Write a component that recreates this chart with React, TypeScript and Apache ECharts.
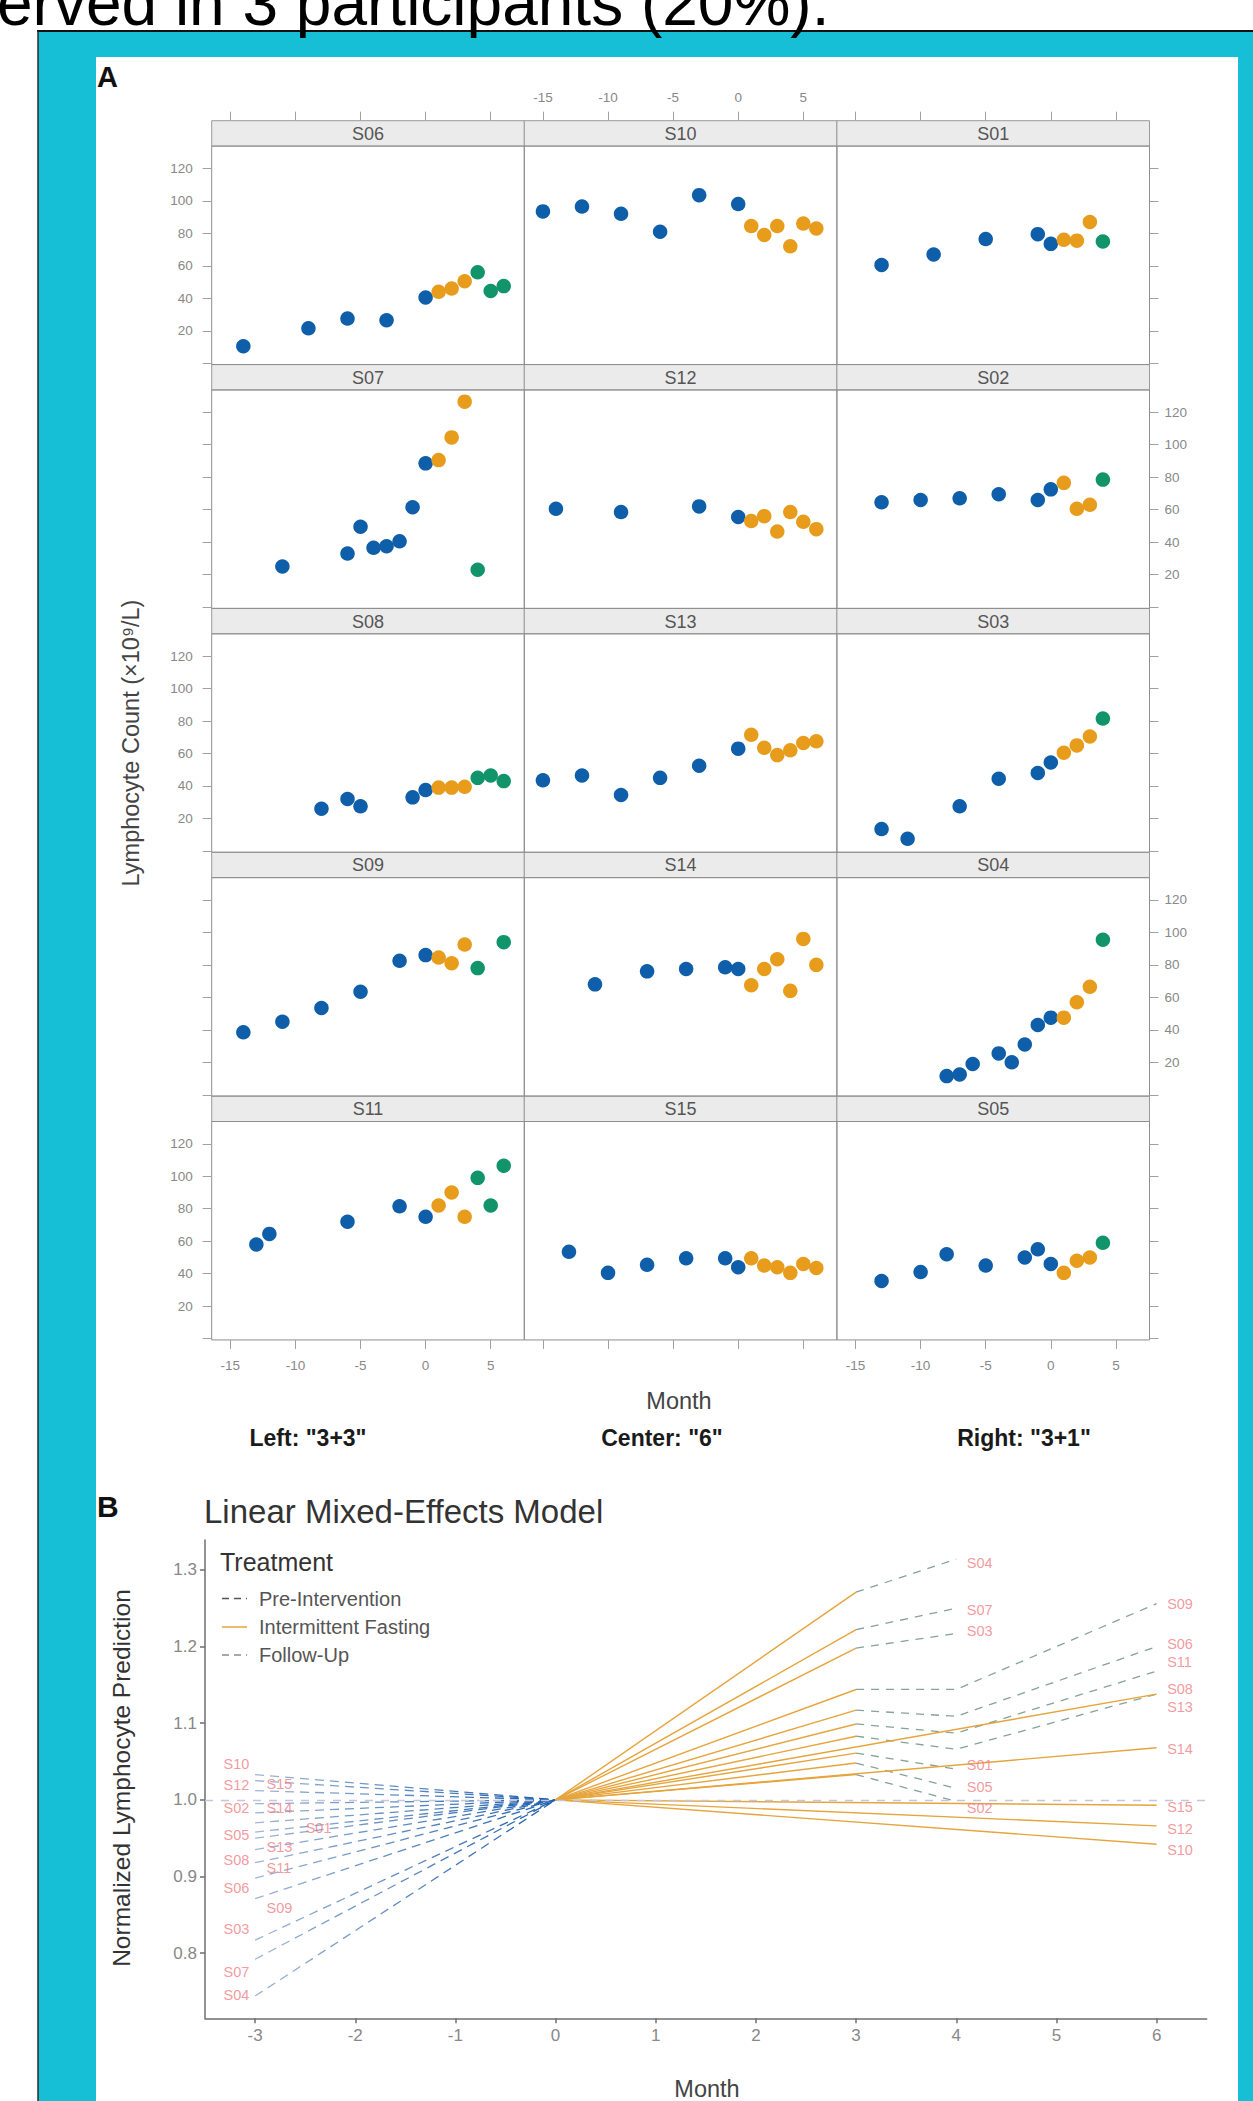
import React, { useEffect, useRef } from 'react';
import * as echarts from 'echarts';

const FONT = '"Liberation Sans", Arial, Helvetica, sans-serif';

// ---------- Panel A: lymphocyte counts by month ----------
const S01_month = [-13, -9, -5, -1, 0, 1, 2, 3, 4];
const S01_count = [60.5, 67, 76.5, 79.5, 73.5, 76, 75.5, 87, 75];
const S02_month = [-13, -10, -7, -4, -1, 0, 1, 2, 3, 4];
const S02_count = [64.5, 66, 67, 69.5, 66, 72.5, 76.5, 60.5, 63, 78.5];
const S03_month = [-13, -11, -7, -4, -1, 0, 1, 2, 3, 4];
const S03_count = [13.5, 7.5, 27.5, 44.5, 48, 54.5, 60.5, 65, 70.5, 81.5];
const S04_month = [-8, -7, -6, -4, -3, -2, -1, 0, 1, 2, 3, 4];
const S04_count = [11.5, 12.5, 19, 25.5, 20, 31, 43, 47.5, 47.5, 57, 66.5, 95.5];
const S05_month = [-13, -10, -8, -5, -2, -1, 0, 1, 2, 3, 4];
const S05_count = [35.5, 41, 52, 45, 50, 55, 46, 40.5, 48, 50, 59];
const S06_month = [-14, -9, -6, -3, 0, 1, 2, 3, 4, 5, 6];
const S06_count = [10.5, 21.5, 27.5, 26.5, 40.5, 44, 46, 50.5, 56, 44.5, 47.5];
const S07_month = [-11, -6, -5, -4, -3, -2, -1, 0, 1, 2, 3, 4];
const S07_count = [25, 33, 49.5, 36.5, 37.5, 40.5, 61.5, 88.5, 90.5, 104.5, 126.5, 23];
const S08_month = [-8, -6, -5, -1, 0, 1, 2, 3, 4, 5, 6];
const S08_count = [26, 32, 27.5, 33, 37.5, 39, 39, 39.5, 45, 46.5, 43];
const S09_month = [-14, -11, -8, -5, -2, 0, 1, 2, 3, 4, 6];
const S09_count = [38.5, 45, 53.5, 63.5, 82.5, 86, 84.5, 81, 92.5, 78, 94];
const S10_month = [-15, -12, -9, -6, -3, 0, 1, 2, 3, 4, 5, 6];
const S10_count = [93.5, 96.5, 92, 81, 103.5, 98, 84.5, 79, 84.5, 72, 86, 83];
const S11_month = [-13, -12, -6, -2, 0, 1, 2, 3, 4, 5, 6];
const S11_count = [58, 64.5, 72, 81.5, 75, 82, 90, 75, 99, 82, 106.5];
const S12_month = [-14, -9, -3, 0, 1, 2, 3, 4, 5, 6];
const S12_count = [60.5, 58.5, 62, 55.5, 53, 56, 46.5, 58.5, 52.5, 48];
const S13_month = [-15, -12, -9, -6, -3, 0, 1, 2, 3, 4, 5, 6];
const S13_count = [43.5, 46.5, 34.5, 45, 52.5, 63, 71.5, 63.5, 59, 62, 66.5, 67.5];
const S14_month = [-11, -7, -4, -1, 0, 1, 2, 3, 4, 5, 6];
const S14_count = [68, 76, 77.5, 78.5, 77.5, 67.5, 77.5, 83.5, 64, 96, 80];
const S15_month = [-13, -10, -7, -4, -1, 0, 1, 2, 3, 4, 5, 6];
const S15_count = [53.5, 40.5, 45.5, 49.5, 49.5, 44, 49.5, 45, 44, 40.5, 46, 43.5];

const panelRows = [
  ['S06', 'S10', 'S01'],
  ['S07', 'S12', 'S02'],
  ['S08', 'S13', 'S03'],
  ['S09', 'S14', 'S04'],
  ['S11', 'S15', 'S05'],
];
const columnFastingEnd = [3, 6, 3];
const groupLabels = ['Left: "3+3"', 'Center: "6"', 'Right: "3+1"'];
const aMonthTicks = [-15, -10, -5, 0, 5];
const aCountTicks = [0, 20, 40, 60, 80, 100, 120];
const aCountLabels = [20, 40, 60, 80, 100, 120];

// ---------- Panel B: normalized model predictions ----------
const bSubjects = ['S01', 'S02', 'S03', 'S04', 'S05', 'S06', 'S07', 'S08', 'S09', 'S10', 'S11', 'S12', 'S13', 'S14', 'S15'];
const bPreStart = [0.970, 0.983, 0.817, 0.744, 0.958, 0.898, 0.792, 0.935, 0.871, 1.033, 0.918, 1.025, 0.950, 0.995, 1.012];
const bFastEndMonth = [3, 3, 3, 3, 3, 3, 3, 3, 3, 6, 3, 6, 6, 6, 6];
const bFastEnd = [1.061, 1.033, 1.198, 1.271, 1.048, 1.117, 1.222, 1.083, 1.144, 0.942, 1.099, 0.966, 1.138, 1.068, 0.993];
const bFollow4 = [1.040, 0.998, 1.217, 1.314, 1.015, 1.109, 1.250, 1.066, 1.144, null, 1.087, null, null, null, null];
const bFollow6 = [null, null, null, null, null, 1.200, null, 1.138, 1.256, null, 1.168, null, null, null, null];
const bLeftLabelX = [-2.5, -3.32, -3.32, -3.32, -3.32, -3.32, -3.32, -3.32, -2.89, -3.32, -2.89, -3.32, -2.89, -2.89, -2.89];
const bLeftLabelY = [0.963, 0.990, 0.831, 0.746, 0.954, 0.885, 0.776, 0.922, 0.859, 1.047, 0.911, 1.020, 0.939, 0.990, 1.021];
const bRightLabelY = [1.046, 0.989, 1.220, 1.309, 1.017, 1.203, 1.248, 1.144, 1.256, 0.934, 1.180, 0.962, 1.121, 1.066, 0.991];
const bMonthTicks = [-3, -2, -1, 0, 1, 2, 3, 4, 5, 6];
const bPredTicks = [0.8, 0.9, 1.0, 1.1, 1.2, 1.3];
const legendItems = ['Pre-Intervention', 'Intermittent Fasting', 'Follow-Up'];

const subjectTable: Record<string, [number[], number[]]> = {
  S01: [S01_month, S01_count], S02: [S02_month, S02_count], S03: [S03_month, S03_count],
  S04: [S04_month, S04_count], S05: [S05_month, S05_count], S06: [S06_month, S06_count],
  S07: [S07_month, S07_count], S08: [S08_month, S08_count], S09: [S09_month, S09_count],
  S10: [S10_month, S10_count], S11: [S11_month, S11_count], S12: [S12_month, S12_count],
  S13: [S13_month, S13_count], S14: [S14_month, S14_count], S15: [S15_month, S15_count],
};

const BLUE = '#0F5EA9';
const ORANGE = '#E89C1C';
const GREEN = '#12946A';
const LINE_ORANGE = '#E6A43C';
const FOLLOW_COL = '#87a297';
const LABEL_RED = '#EF7F86';
const TICK = '#a0a0a0';
const TICKLAB = '#888888';

function buildOption() {
  const grid: any[] = [];
  const xAxis: any[] = [];
  const yAxis: any[] = [];
  const series: any[] = [];
  const graphic: any[] = [];

  graphic.push(
    { type: 'rect', z: -30, shape: { x: 0, y: 0, width: 1253, height: 2101 }, style: { fill: '#ffffff' } },
    { type: 'rect', z: -29, shape: { x: 38, y: 31, width: 1215, height: 2070 }, style: { fill: '#16BED6' } },
    { type: 'line', z: -28, shape: { x1: 37, y1: 31, x2: 1253, y2: 31 }, style: { stroke: '#111', lineWidth: 2 } },
    { type: 'line', z: -28, shape: { x1: 38, y1: 31, x2: 38, y2: 2101 }, style: { stroke: '#2a2a2a', lineWidth: 1.5 } },
    { type: 'rect', z: -27, shape: { x: 96, y: 57, width: 1142, height: 2044 }, style: { fill: '#ffffff' } },
    { type: 'text', z: 20, x: -3, y: 2.5, style: { text: 'erved in 3 participants (20%).', fontSize: 64, fontFamily: FONT, fill: '#000', align: 'left', verticalAlign: 'middle' } },
  );

  // ----- Panel A layout -----
  const A_LEFT = 211.7, A_COLW = 312.6, A_TOP = 120.7, A_ROWH = 243.85, STRIP_H = 25.4;
  const X_MIN = -16.43, X_MAX = 7.58, Y_MIN = -0.8, Y_MAX = 133.7;

  const tickStyle = { color: TICK, width: 1 };
  const labStyle = { color: TICKLAB, fontSize: 13.5, fontFamily: FONT };

  panelRows.forEach((row, r) => {
    row.forEach((name, c) => {
      const gi = grid.length;
      const gx = A_LEFT + c * A_COLW;
      const sy = A_TOP + r * A_ROWH;
      graphic.push({ type: 'rect', z: -1, shape: { x: gx, y: sy, width: A_COLW, height: STRIP_H }, style: { fill: '#ebebeb', stroke: '#9a9a9a', lineWidth: 1 } });
      graphic.push({ type: 'text', z: 5, x: gx + A_COLW / 2, y: sy + STRIP_H / 2 + 0.5, style: { text: name, fontSize: 18, fontFamily: FONT, fill: '#555', align: 'center', verticalAlign: 'middle' } });
      grid.push({ left: gx, top: sy + STRIP_H, width: A_COLW, height: A_ROWH - STRIP_H, show: true, borderColor: '#8e8e8e', borderWidth: 1, backgroundColor: 'transparent', containLabel: false, outerBoundsMode: 'none' });

      const xBase = { type: 'value', gridIndex: gi, min: X_MIN, max: X_MAX, splitLine: { show: false }, axisLine: { show: false, onZero: false } };
      xAxis.push({ ...xBase, position: 'bottom', show: r === 4,
        axisTick: { show: true, inside: false, length: 9, lineStyle: tickStyle, customValues: aMonthTicks },
        axisLabel: { show: c !== 1, customValues: aMonthTicks, margin: 19, ...labStyle } });
      xAxis.push({ ...xBase, position: 'top', offset: STRIP_H, show: r === 0,
        axisTick: { show: true, inside: false, length: 9, lineStyle: tickStyle, customValues: aMonthTicks },
        axisLabel: { show: c === 1, customValues: aMonthTicks, margin: 16, ...labStyle } });
      const yBase = { type: 'value', gridIndex: gi, min: Y_MIN, max: Y_MAX, splitLine: { show: false }, axisLine: { show: false, onZero: false } };
      yAxis.push({ ...yBase, position: 'left', show: c === 0,
        axisTick: { show: true, inside: false, length: 9, lineStyle: tickStyle, customValues: aCountTicks },
        axisLabel: { show: r % 2 === 0, customValues: aCountLabels, margin: 19, ...labStyle } });
      yAxis.push({ ...yBase, position: 'right', show: c === 2,
        axisTick: { show: true, inside: false, length: 9, lineStyle: tickStyle, customValues: aCountTicks },
        axisLabel: { show: r % 2 === 1, customValues: aCountLabels, margin: 15, ...labStyle } });

      const [months, counts] = subjectTable[name];
      const fastEnd = columnFastingEnd[c];
      const pre: number[][] = [], fast: number[][] = [], follow: number[][] = [];
      months.forEach((m, k) => {
        const pt = [m, counts[k]];
        if (m <= 0) pre.push(pt);
        else if (m <= fastEnd) fast.push(pt);
        else follow.push(pt);
      });
      const base = { type: 'scatter', xAxisIndex: 2 * gi, yAxisIndex: 2 * gi, symbol: 'circle', symbolSize: 14.5, silent: true };
      series.push({ ...base, data: pre, itemStyle: { color: BLUE, opacity: 1 }, z: 2 });
      series.push({ ...base, data: fast, itemStyle: { color: ORANGE, opacity: 1 }, z: 3 });
      series.push({ ...base, data: follow, itemStyle: { color: GREEN, opacity: 1 }, z: 4 });
    });
  });

  // Panel A texts
  graphic.push(
    { type: 'text', z: 5, x: 97, y: 76.5, style: { text: 'A', fontSize: 29, fontWeight: 'bold', fontFamily: FONT, fill: '#111', align: 'left', verticalAlign: 'middle' } },
    { type: 'text', z: 5, x: 131, y: 743, rotation: Math.PI / 2, style: { text: 'Lymphocyte Count (×10⁹/L)', fontSize: 23.5, fontFamily: FONT, fill: '#444', align: 'center', verticalAlign: 'middle' } },
    { type: 'text', z: 5, x: 679, y: 1400.5, style: { text: 'Month', fontSize: 23.5, fontFamily: FONT, fill: '#444', align: 'center', verticalAlign: 'middle' } },
  );
  const groupCenters = [308, 662, 1024];
  groupLabels.forEach((t, i) => {
    graphic.push({ type: 'text', z: 5, x: groupCenters[i], y: 1437.5, style: { text: t, fontSize: 23, fontWeight: 'bold', fontFamily: FONT, fill: '#1a1a1a', align: 'center', verticalAlign: 'middle' } });
  });

  // ----- Panel B -----
  const bi = grid.length;
  grid.push({ left: 205, top: 1540, width: 1001.7, height: 478.3, show: false, containLabel: false, outerBoundsMode: 'none' });
  const bAxisLine = { color: '#6e6e6e', width: 1.5 };
  xAxis.push({ type: 'value', gridIndex: bi, min: -3.5, max: 6.5, splitLine: { show: false },
    axisLine: { show: true, onZero: false, lineStyle: bAxisLine },
    axisTick: { show: true, length: 5, lineStyle: bAxisLine, customValues: bMonthTicks },
    axisLabel: { customValues: bMonthTicks, color: TICKLAB, fontSize: 17, margin: 9, fontFamily: FONT } });
  yAxis.push({ type: 'value', gridIndex: bi, min: 0.715, max: 1.339, splitLine: { show: false },
    axisLine: { show: true, onZero: false, lineStyle: bAxisLine },
    axisTick: { show: true, length: 5, lineStyle: bAxisLine, customValues: bPredTicks },
    axisLabel: { customValues: bPredTicks, color: TICKLAB, fontSize: 17, margin: 8, fontFamily: FONT, formatter: (v: number) => v.toFixed(1) } });
  const bx = xAxis.length - 1, by = yAxis.length - 1;

  const preGrad = new echarts.graphic.LinearGradient(0, 0, 1, 0, [
    { offset: 0, color: '#9fb6d3' },
    { offset: 1, color: '#1d5ead' },
  ]);

  bSubjects.forEach((name, i) => {
    const common = { type: 'line', xAxisIndex: bx, yAxisIndex: by, symbol: 'none', silent: true };
    const preSeries: any = { ...common, data: [[-3, bPreStart[i]], [0, 1]], lineStyle: { type: [9, 6], width: 1.3, color: preGrad }, z: 3 };
    if (i === 0) {
      preSeries.markLine = { silent: true, symbol: 'none', label: { show: false }, data: [{ yAxis: 1 }], lineStyle: { type: [8, 8], color: '#c3c6dc', width: 1.3 } };
    }
    series.push(preSeries);
    series.push({ ...common, data: [[0, 1], [bFastEndMonth[i], bFastEnd[i]]], lineStyle: { type: 'solid', width: 1.4, color: LINE_ORANGE }, z: 4 });
    const fu: number[][] = [];
    if (bFollow4[i] != null) {
      fu.push([bFastEndMonth[i], bFastEnd[i]], [4, bFollow4[i] as number]);
      if (bFollow6[i] != null) fu.push([6, bFollow6[i] as number]);
      series.push({ ...common, data: fu, lineStyle: { type: [8, 7], width: 1.3, color: FOLLOW_COL }, z: 4 });
    }
  });

  const leftLabels = bSubjects.map((n, i) => [bLeftLabelX[i], bLeftLabelY[i], n]);
  const rightLabels = bSubjects.map((n, i) => {
    const lastM = bFollow6[i] != null ? 6 : bFollow4[i] != null ? 4 : bFastEndMonth[i];
    return [lastM + 0.1, bRightLabelY[i], n];
  });
  const labelSeries = {
    type: 'scatter', xAxisIndex: bx, yAxisIndex: by, symbolSize: 1, silent: true, z: 6,
    itemStyle: { color: 'rgba(0,0,0,0)' },
    label: { show: true, position: 'right', distance: 0, formatter: (p: any) => p.data[2], color: LABEL_RED, fontSize: 14.5, fontFamily: FONT },
  };
  series.push({ ...labelSeries, data: leftLabels });
  series.push({ ...labelSeries, data: rightLabels });

  // Panel B texts & legend
  graphic.push(
    { type: 'text', z: 5, x: 97, y: 1506.5, style: { text: 'B', fontSize: 30, fontWeight: 'bold', fontFamily: FONT, fill: '#111', align: 'left', verticalAlign: 'middle' } },
    { type: 'text', z: 5, x: 204, y: 1511, style: { text: 'Linear Mixed-Effects Model', fontSize: 33, fontFamily: FONT, fill: '#333', align: 'left', verticalAlign: 'middle' } },
    { type: 'text', z: 5, x: 121, y: 1778, rotation: Math.PI / 2, style: { text: 'Normalized Lymphocyte Prediction', fontSize: 24.5, fontFamily: FONT, fill: '#333', align: 'center', verticalAlign: 'middle' } },
    { type: 'text', z: 5, x: 707, y: 2089, style: { text: 'Month', fontSize: 23.5, fontFamily: FONT, fill: '#444', align: 'center', verticalAlign: 'middle' } },
    { type: 'text', z: 5, x: 220, y: 1562, style: { text: 'Treatment', fontSize: 25, fontFamily: FONT, fill: '#333', align: 'left', verticalAlign: 'middle' } },
  );
  const legendY = [1598.5, 1627, 1655];
  const legendStroke = ['#555', LINE_ORANGE, '#8a8a8a'];
  const legendDash: any[] = [[7, 5], null, [7, 5]];
  legendItems.forEach((t, i) => {
    graphic.push({ type: 'line', z: 5, shape: { x1: 222, y1: legendY[i], x2: 247, y2: legendY[i] }, style: { stroke: legendStroke[i], lineWidth: 1.5, lineDash: legendDash[i] } });
    graphic.push({ type: 'text', z: 5, x: 259, y: legendY[i], style: { text: t, fontSize: 20, fontFamily: FONT, fill: '#555', align: 'left', verticalAlign: 'middle' } });
  });

  return {
    animation: false,
    backgroundColor: '#ffffff',
    textStyle: { fontFamily: FONT },
    grid, xAxis, yAxis, series, graphic,
  };
}

export default function App() {
  const ref = useRef<HTMLDivElement>(null);
  useEffect(() => {
    if (!ref.current) return;
    const chart = echarts.init(ref.current, undefined, { renderer: 'svg', width: 1253, height: 2101 });
    chart.setOption(buildOption() as any);
    return () => chart.dispose();
  }, []);
  return <div ref={ref} style={{ position: 'absolute', left: 0, top: 0, width: 1253, height: 2101 }} />;
}
